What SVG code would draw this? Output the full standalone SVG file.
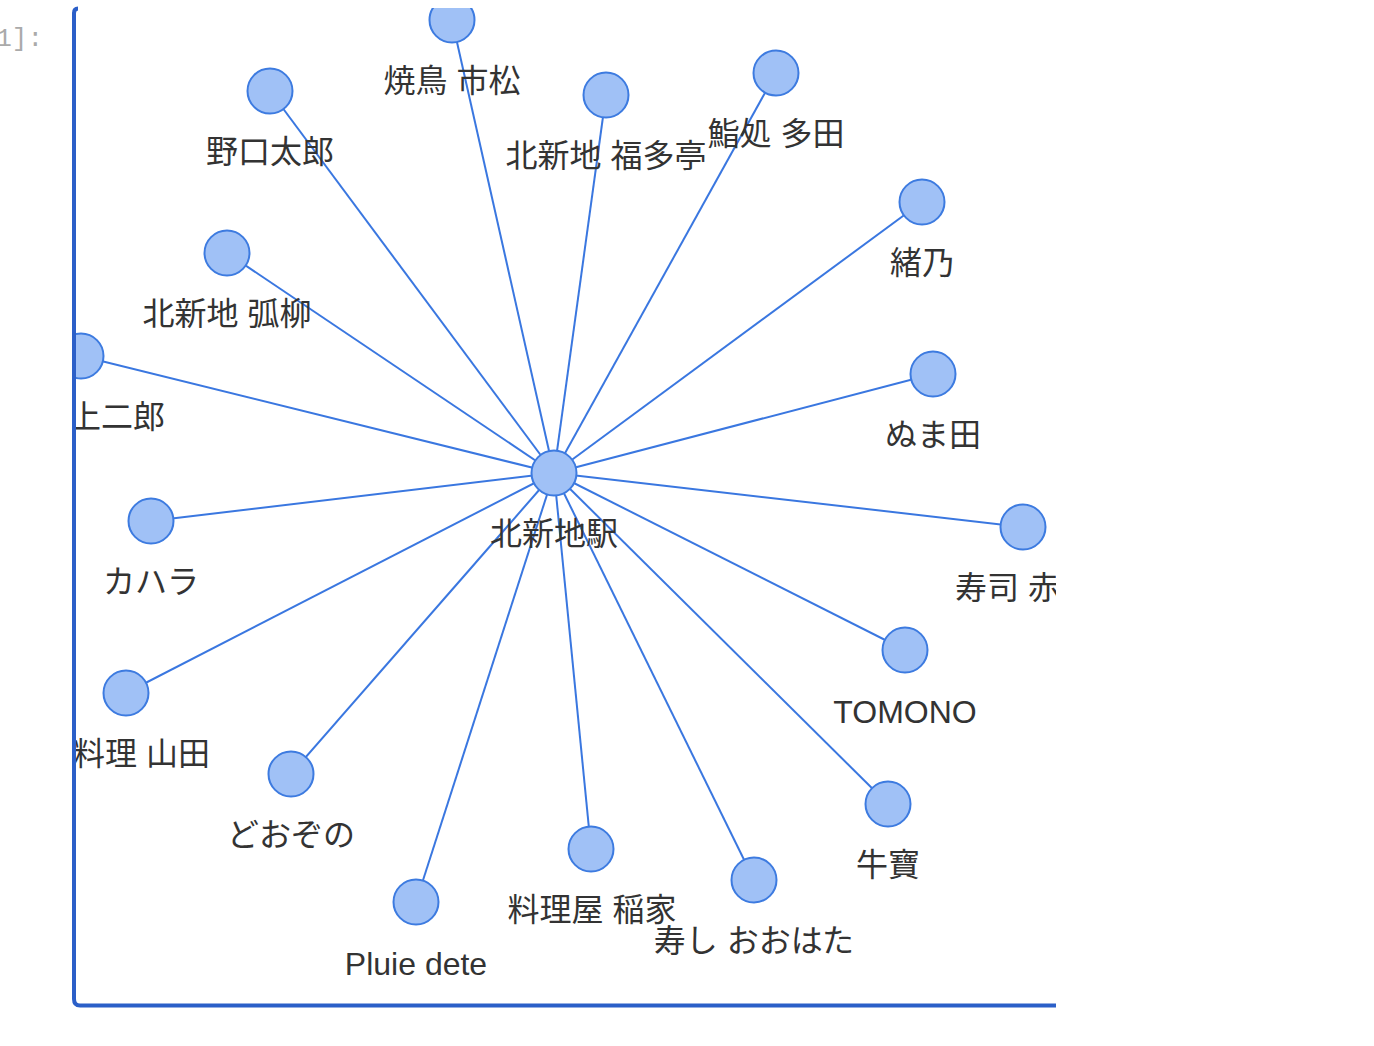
<svg xmlns="http://www.w3.org/2000/svg" width="1374" height="1046" viewBox="0 0 1374 1046">
<style>
.edge{stroke:#3a77e0;stroke-width:2;fill:none}
.node circle{fill:#a0c1f6;stroke:#3d7be0;stroke-width:2}
.node text{font-family:"Liberation Sans","Noto Sans CJK JP",sans-serif;font-size:32px;fill:#333;text-anchor:middle}
.prompt{font-family:"Liberation Mono",monospace;font-size:26px;fill:#aaa}
</style>
<defs>
<clipPath id="area"><rect x="76" y="8" width="980" height="996"/></clipPath>
</defs>
<rect width="1374" height="1046" fill="#fff"/>
<text class="prompt" x="43" y="46" text-anchor="end">1]:</text>
<g clip-path="url(#area)">
<g id="edges">
<line class="edge" x1="554" y1="473" x2="452" y2="20"/>
<line class="edge" x1="554" y1="473" x2="270" y2="91"/>
<line class="edge" x1="554" y1="473" x2="606" y2="95"/>
<line class="edge" x1="554" y1="473" x2="776" y2="73"/>
<line class="edge" x1="554" y1="473" x2="922" y2="202"/>
<line class="edge" x1="554" y1="473" x2="227" y2="253"/>
<line class="edge" x1="554" y1="473" x2="81" y2="356"/>
<line class="edge" x1="554" y1="473" x2="933" y2="374"/>
<line class="edge" x1="554" y1="473" x2="151" y2="521"/>
<line class="edge" x1="554" y1="473" x2="1023" y2="527"/>
<line class="edge" x1="554" y1="473" x2="126" y2="693"/>
<line class="edge" x1="554" y1="473" x2="905" y2="650"/>
<line class="edge" x1="554" y1="473" x2="291" y2="774"/>
<line class="edge" x1="554" y1="473" x2="888" y2="804"/>
<line class="edge" x1="554" y1="473" x2="416" y2="902"/>
<line class="edge" x1="554" y1="473" x2="591" y2="849"/>
<line class="edge" x1="554" y1="473" x2="754" y2="880"/>
</g>
<g id="n-center" class="node"><circle cx="554" cy="473" r="22.5"/><text x="554" y="545">北新地駅</text></g>
<g id="n-yakitori" class="node"><circle cx="452" cy="20" r="22.5"/><text x="452" y="92">焼鳥 市松</text></g>
<g id="n-noguchi" class="node"><circle cx="270" cy="91" r="22.5"/><text x="270" y="163">野口太郎</text></g>
<g id="n-fukutatei" class="node"><circle cx="606" cy="95" r="22.5"/><text x="606" y="167">北新地 福多亭</text></g>
<g id="n-tada" class="node"><circle cx="776" cy="73" r="22.5"/><text x="776" y="145">鮨処 多田</text></g>
<g id="n-ono" class="node"><circle cx="922" cy="202" r="22.5"/><text x="922" y="274">緒乃</text></g>
<g id="n-koryu" class="node"><circle cx="227" cy="253" r="22.5"/><text x="227" y="325">北新地 弧柳</text></g>
<g id="n-jiro" class="node"><circle cx="81" cy="356" r="22.5"/><text x="165" y="428" style="text-anchor:end">上二郎</text></g>
<g id="n-numata" class="node"><circle cx="933" cy="374" r="22.5"/><text x="933" y="446">ぬま田</text></g>
<g id="n-kahala" class="node"><circle cx="151" cy="521" r="22.5"/><text x="151" y="593">カハラ</text></g>
<g id="n-aka" class="node"><circle cx="1023" cy="527" r="22.5"/><text x="955" y="599" style="text-anchor:start">寿司 赤</text></g>
<g id="n-yamada" class="node"><circle cx="126" cy="693" r="22.5"/><text x="210" y="765" style="text-anchor:end">料理 山田</text></g>
<g id="n-tomono" class="node"><circle cx="905" cy="650" r="22.5"/><text x="905" y="723">TOMONO</text></g>
<g id="n-dozono" class="node"><circle cx="291" cy="774" r="22.5"/><text x="291" y="846">どおぞの</text></g>
<g id="n-gyuho" class="node"><circle cx="888" cy="804" r="22.5"/><text x="888" y="876">牛寶</text></g>
<g id="n-pluie" class="node"><circle cx="416" cy="902" r="22.5"/><text x="416" y="975">Pluie dete</text></g>
<g id="n-inaya" class="node"><circle cx="591" cy="849" r="22.5"/><text x="592" y="921">料理屋 稲家</text></g>
<g id="n-oohata" class="node"><circle cx="754" cy="880" r="22.5"/><text x="754" y="952">寿し おおはた</text></g>
</g>
<path d="M78 8.5 Q74 8.5 74 13 V999 Q74 1005.5 80 1005.5 H1056" fill="none" stroke="#2b5fc8" stroke-width="4"/>
</svg>
